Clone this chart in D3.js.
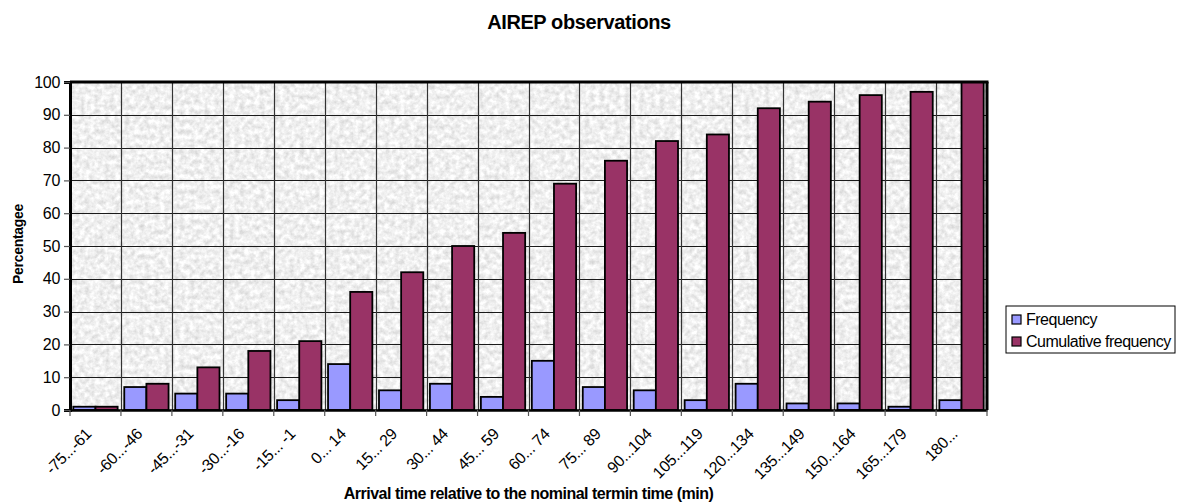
<!DOCTYPE html>
<html>
<head>
<meta charset="utf-8">
<script src="https://cdn.jsdelivr.net/npm/d3@7"></script>
<style>
  html, body { margin: 0; padding: 0; background: #fff; }
  svg { display: block; font-family: "Liberation Sans", Arial, Helvetica, sans-serif; }
</style>
</head>
<body>
<svg id="chart" width="1177" height="503"></svg>
<script>
// Arrival-time classes (minutes relative to nominal termin time)
const categories = ["-75...-61", "-60...-46", "-45...-31", "-30...-16", "-15... -1", "0... 14",
  "15... 29", "30... 44", "45... 59", "60... 74", "75... 89", "90...104", "105...119",
  "120...134", "135...149", "150...164", "165...179", "180..."];
const seriesNames = ["Frequency", "Cumulative frequency"];
const frequency = [1, 7, 5, 5, 3, 14, 6, 8, 4, 15, 7, 6, 3, 8, 2, 2, 1, 3];
const cumulative = [1, 8, 13, 18, 21, 36, 42, 50, 54, 69, 76, 82, 84, 92, 94, 96, 97, 100];
const yTicks = [0, 10, 20, 30, 40, 50, 60, 70, 80, 90, 100];
const colors = ["#9999ff", "#993366"];

const svg = d3.select("#chart");
const plot = { left: 70, right: 987, top: 82, bottom: 410 };

// Granite-like grey texture for the plot area
const defs = svg.append("defs");
const f = defs.append("filter").attr("id", "granite")
  .attr("x", 0).attr("y", 0).attr("width", 1).attr("height", 1)
  .attr("color-interpolation-filters", "sRGB");
f.append("feTurbulence").attr("type", "fractalNoise").attr("baseFrequency", 0.2)
  .attr("numOctaves", 3).attr("seed", 11).attr("result", "n");
f.append("feColorMatrix").attr("in", "n").attr("type", "matrix")
  .attr("values", "0.26 0 0 0 0.81  0.26 0 0 0 0.81  0.26 0 0 0 0.81  0 0 0 0 1")
  .attr("result", "g");
f.append("feComposite").attr("in", "g").attr("in2", "SourceGraphic").attr("operator", "in");

const x = d3.scaleBand().domain(categories).range([plot.left, plot.right]).padding(0);
const xs = d3.scaleBand().domain(seriesNames).range([0, x.bandwidth()])
  .paddingInner(0).paddingOuter(0.15);
const y = d3.scaleLinear().domain([0, 100]).range([plot.bottom, plot.top]);

// plot background
svg.append("rect").attr("x", plot.left).attr("y", plot.top)
  .attr("width", plot.right - plot.left).attr("height", plot.bottom - plot.top)
  .attr("fill", "#ececec").attr("filter", "url(#granite)");

// gridlines
const grid = svg.append("g").attr("stroke", "#1a1a1a").attr("stroke-width", 1.2);
grid.selectAll("line.h").data(yTicks.slice(1, -1)).join("line")
  .attr("x1", plot.left).attr("x2", plot.right)
  .attr("y1", d => Math.round(y(d)) + 0.5).attr("y2", d => Math.round(y(d)) + 0.5);
grid.selectAll("line.v").data(categories.slice(1)).join("line")
  .attr("x1", d => Math.round(x(d)) + 0.5).attr("x2", d => Math.round(x(d)) + 0.5)
  .attr("y1", plot.top).attr("y2", plot.bottom).attr("stroke", "#333");

// bars
const rows = categories.map((c, i) => ({ c, vals: [frequency[i], cumulative[i]] }));
const groups = svg.append("g").selectAll("g").data(rows).join("g")
  .attr("transform", d => `translate(${x(d.c)},0)`);
groups.selectAll("rect").data(d => d.vals.map((v, k) => ({ k, v }))).join("rect")
  .attr("x", d => xs(seriesNames[d.k]))
  .attr("width", xs.bandwidth())
  .attr("y", d => y(d.v))
  .attr("height", d => y(0) - y(d.v))
  .attr("fill", d => colors[d.k])
  .attr("stroke", "#000").attr("stroke-width", 1.8);

// frame
svg.append("line").attr("x1", plot.left).attr("x2", plot.right + 1.5)
  .attr("y1", plot.top).attr("y2", plot.top).attr("stroke", "#000").attr("stroke-width", 3);
svg.append("line").attr("x1", plot.right).attr("x2", plot.right)
  .attr("y1", plot.top).attr("y2", plot.bottom).attr("stroke", "#000").attr("stroke-width", 3);

// y axis
const yAxis = d3.axisLeft(y).tickValues(yTicks).tickSize(6).tickPadding(4);
const gy = svg.append("g").attr("transform", `translate(${plot.left},0)`).call(yAxis);
gy.select(".domain").attr("stroke", "#000").attr("stroke-width", 3);
gy.selectAll(".tick line").attr("stroke", "#555").attr("stroke-width", 1.2);
gy.selectAll(".tick text").attr("font-size", 16).attr("fill", "#000")
  .attr("font-family", "'Liberation Sans', Arial, sans-serif").attr("letter-spacing", "-0.3");

// x axis
const xAxis = d3.axisBottom(x).tickSize(0).tickFormat(d => d);
const gx = svg.append("g").attr("transform", `translate(0,${plot.bottom})`).call(xAxis);
gx.select(".domain").attr("stroke", "#000").attr("stroke-width", 2.5);
gx.selectAll(".tick text")
  .attr("font-size", 16).attr("fill", "#000")
  .attr("font-family", "'Liberation Sans', Arial, sans-serif").attr("letter-spacing", "-0.3")
  .attr("text-anchor", "end")
  .attr("transform", "translate(-7,21) rotate(-45)")
  .attr("x", 0).attr("y", 0).attr("dy", "0.35em");
// boundary ticks between categories
svg.append("g").selectAll("line").data(categories.concat([null])).join("line")
  .attr("x1", (d, i) => plot.left + i * x.step()).attr("x2", (d, i) => plot.left + i * x.step())
  .attr("y1", plot.bottom).attr("y2", plot.bottom + 6)
  .attr("stroke", "#555").attr("stroke-width", 1.2);

// titles
svg.append("text").attr("x", 579).attr("y", 29).attr("text-anchor", "middle")
  .attr("font-size", 20).attr("font-weight", "bold").attr("letter-spacing", "-0.4")
  .text("AIREP observations");
svg.append("text").attr("transform", `translate(23,${(plot.top + plot.bottom) / 2 - 2}) rotate(-90)`)
  .attr("text-anchor", "middle").attr("font-size", 14).attr("font-weight", "bold")
  .attr("letter-spacing", "-0.3").text("Percentagee");
svg.append("text").attr("x", (plot.left + plot.right) / 2).attr("y", 499)
  .attr("text-anchor", "middle").attr("font-size", 16).attr("font-weight", "bold")
  .attr("letter-spacing", "-0.5")
  .text("Arrival time relative to the nominal termin time (min)");

// legend
const lg = svg.append("g").attr("transform", "translate(1006,306)");
lg.append("rect").attr("width", 169).attr("height", 47)
  .attr("fill", "#fff").attr("stroke", "#000").attr("stroke-width", 1);
seriesNames.forEach((s, i) => {
  const row = lg.append("g").attr("transform", `translate(6,${9 + i * 22})`);
  row.append("rect").attr("width", 9).attr("height", 9).attr("fill", colors[i])
    .attr("stroke", "#000").attr("stroke-width", 1.2);
  row.append("text").attr("x", 14).attr("y", 9.5).attr("font-size", 16)
    .attr("letter-spacing", "-0.5").text(s);
});
</script>
</body>
</html>
